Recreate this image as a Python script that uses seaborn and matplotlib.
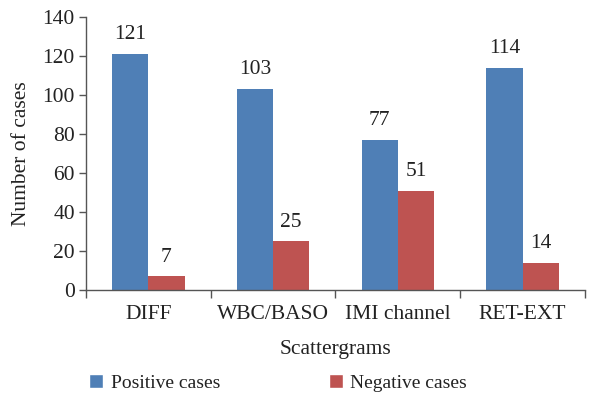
import matplotlib
matplotlib.use("Agg")
import matplotlib.pyplot as plt
import seaborn as sns
import pandas as pd
from matplotlib.patches import Patch

categories = ["DIFF", "WBC/BASO", "IMI channel", "RET-EXT"]
positive = [121, 103, 77, 114]
negative = [7, 25, 51, 14]
series_names = ["Positive cases", "Negative cases"]
colors = ["#4F7FB6", "#BE5351"]

df = pd.DataFrame({
    "cat": categories * 2,
    "val": positive + negative,
    "series": [series_names[0]] * 4 + [series_names[1]] * 4,
})

sns.set_style("white")
plt.rcParams["font.family"] = ["Liberation Serif", "DejaVu Serif"]
FS = 15.5

fig = plt.figure(figsize=(6.08, 3.98), dpi=100)
ax = fig.add_axes([0.1414, 0.2714, 0.8206, 0.686])
sns.barplot(data=df, x="cat", y="val", hue="series", palette=colors,
            width=0.58, ax=ax, legend=False, saturation=1, linewidth=0)

for c in ax.containers:
    ax.bar_label(c, padding=7, fontsize=FS, color="#222222")

ax.set_ylim(0, 140)
ax.set_yticks(range(0, 141, 20))
ax.set_xlim(-0.5, 3.5)
ax.tick_params(axis="y", labelsize=FS, length=5, width=1, color="#555555", direction="out", left=True, labelcolor="#222222", pad=3)
ax.tick_params(axis="x", which="major", labelsize=FS, length=0, pad=11, labelcolor="#222222")
ax.set_xticks([-0.5, 0.5, 1.5, 2.5, 3.5], minor=True)
ax.tick_params(axis="x", which="minor", length=6, width=1, color="#555555", direction="out", bottom=True)
for s in ["top", "right"]:
    ax.spines[s].set_visible(False)
for s in ["left", "bottom"]:
    ax.spines[s].set_color("#555555")
    ax.spines[s].set_linewidth(1)
ax.set_xlabel("Scattergrams", fontsize=FS, color="#222222", labelpad=11)
ax.set_ylabel("Number of cases", fontsize=FS, color="#222222", labelpad=8)

handles = [Patch(facecolor=colors[i], label=series_names[i]) for i in range(2)]
fig.legend(handles=handles, loc="center left", bbox_to_anchor=(0.118, 0.038), ncol=2,
           frameon=False, fontsize=14, columnspacing=5.6, handlelength=0.7, handleheight=0.7,
           handletextpad=0.4, labelcolor="#222222")

fig.savefig("out.png", dpi=100)
